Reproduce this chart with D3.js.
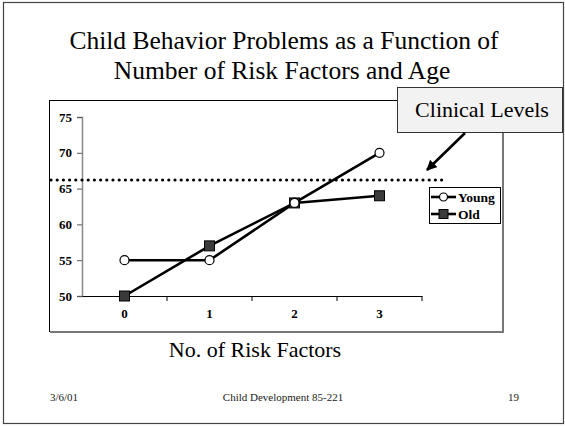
<!DOCTYPE html>
<html><head><meta charset="utf-8">
<script src="https://cdn.jsdelivr.net/npm/d3@7"></script>
<style>
body{margin:0;background:#fff}svg{display:block}
svg text{font-family:"Liberation Serif","Times New Roman",Times,"DejaVu Serif",serif !important;}
</style>
</head><body>
<script>
const categories = ["0","1","2","3"];
const young = [55, 55, 63, 70];
const old = [50, 57, 63, 64];
const yTicks = [50, 55, 60, 65, 70, 75];
const clinicalLevel = 66.2;
const seriesNames = ["Young", "Old"];

const W = 565, H = 426;
const svg = d3.select("body").append("svg").attr("width", W).attr("height", H);

// slide border
svg.append("rect").attr("x", 3.5).attr("y", 2.5).attr("width", 560).attr("height", 421)
  .attr("fill", "#fff").attr("stroke", "#444").attr("stroke-width", 1.2);

// title
const title = svg.append("text").attr("text-anchor", "middle")
  .attr("font-size", 25.5).attr("fill", "#000");
title.append("tspan").attr("x", 284).attr("y", 49).text("Child Behavior Problems as a Function of");
title.append("tspan").attr("x", 282).attr("y", 79).text("Number of Risk Factors and Age");

// chart frame
svg.append("rect").attr("x", 49.5).attr("y", 100.5).attr("width", 453).attr("height", 231)
  .attr("fill", "#fff").attr("stroke", "#000").attr("stroke-width", 1);
svg.append("path").attr("d", "M503,101 V332 H50").attr("fill", "none")
  .attr("stroke", "#777").attr("stroke-width", 2);

const x = d3.scaleBand().domain(categories).range([82, 422]).padding(0);
const y = d3.scaleLinear().domain([50, 75]).range([296, 117]);

// y axis
const yAxis = svg.append("g").attr("transform", "translate(82,0)")
  .call(d3.axisLeft(y).tickValues(yTicks).tickSize(5).tickPadding(5));
yAxis.select(".domain").attr("stroke", "#888").attr("stroke-width", 1.5);
yAxis.selectAll(".tick line").attr("stroke", "#555");
yAxis.selectAll("text").attr("font-size", 13)
  .attr("font-weight", "bold").attr("fill", "#000");

// x axis
const xAxis = svg.append("g").attr("transform", "translate(0,296)")
  .call(d3.axisBottom(x).tickSize(0).tickPadding(13));
xAxis.select(".domain").attr("stroke", "#000").attr("stroke-width", 1.2);
xAxis.selectAll("text").attr("font-size", 13)
  .attr("font-weight", "bold").attr("fill", "#000");
const bounds = categories.slice(1).map(c => x(c)).concat([x.range()[1]]);
svg.append("g").selectAll("line").data(bounds).join("line")
  .attr("x1", d => d).attr("x2", d => d).attr("y1", 296).attr("y2", 301)
  .attr("stroke", "#000").attr("stroke-width", 1);

// clinical dotted line
svg.append("line").attr("x1", 51).attr("x2", 444)
  .attr("y1", y(clinicalLevel)).attr("y2", y(clinicalLevel))
  .attr("stroke", "#000").attr("stroke-width", 3.2)
  .attr("stroke-linecap", "round").attr("stroke-dasharray", "0 6.2");

const cx = c => x(c) + x.bandwidth() / 2;
const line = d3.line().x((d, i) => cx(categories[i])).y(d => y(d));

svg.append("path").datum(young).attr("d", line).attr("fill", "none")
  .attr("stroke", "#000").attr("stroke-width", 2.6);
svg.append("path").datum(old).attr("d", line).attr("fill", "none")
  .attr("stroke", "#000").attr("stroke-width", 2.6);

svg.append("g").selectAll("rect").data(old).join("rect")
  .attr("x", (d, i) => cx(categories[i]) - 5).attr("y", d => y(d) - 5)
  .attr("width", 10).attr("height", 10)
  .attr("fill", "#3a3a3a").attr("stroke", "#000").attr("stroke-width", 1);
svg.append("g").selectAll("circle").data(young).join("circle")
  .attr("cx", (d, i) => cx(categories[i])).attr("cy", d => y(d)).attr("r", 4.5)
  .attr("fill", "#fff").attr("stroke", "#000").attr("stroke-width", 1.2);

// legend
const lg = svg.append("g");
lg.append("rect").attr("x", 429.5).attr("y", 187.5).attr("width", 71).attr("height", 36)
  .attr("fill", "#fff").attr("stroke", "#000").attr("stroke-width", 1);
seriesNames.forEach((name, i) => {
  const ly = 197 + i * 17;
  lg.append("line").attr("x1", 431).attr("x2", 456).attr("y1", ly).attr("y2", ly)
    .attr("stroke", "#000").attr("stroke-width", 2.6);
  if (i === 0) {
    lg.append("circle").attr("cx", 443.5).attr("cy", ly).attr("r", 4)
      .attr("fill", "#fff").attr("stroke", "#000").attr("stroke-width", 1.2);
  } else {
    lg.append("rect").attr("x", 439).attr("y", ly - 4.5).attr("width", 9).attr("height", 9)
      .attr("fill", "#3a3a3a").attr("stroke", "#000").attr("stroke-width", 1);
  }
  lg.append("text").attr("x", 458).attr("y", ly + 4.5)
    .attr("font-size", 13.5).attr("font-weight", "bold").attr("fill", "#000").text(name);
});

// x axis title
svg.append("text").attr("x", 255).attr("y", 357).attr("text-anchor", "middle")
  .attr("font-size", 22).attr("fill", "#000").text("No. of Risk Factors");

// Clinical Levels callout
svg.append("rect").attr("x", 397.5).attr("y", 87.5).attr("width", 165).attr("height", 45)
  .attr("fill", "#f2f2f2").attr("stroke", "#333").attr("stroke-width", 1);
svg.append("text").attr("x", 482).attr("y", 117).attr("text-anchor", "middle")
  .attr("font-size", 22).attr("fill", "#000").text("Clinical Levels");

// arrow
const defs = svg.append("defs");
defs.append("marker").attr("id", "ah").attr("viewBox", "0 0 10 10").attr("refX", 9).attr("refY", 5)
  .attr("markerWidth", 4).attr("markerHeight", 4).attr("orient", "auto")
  .attr("markerUnits", "strokeWidth")
  .append("path").attr("d", "M0,0 L10,5 L0,10 Z").attr("fill", "#000");
svg.append("line").attr("x1", 465).attr("y1", 133).attr("x2", 427).attr("y2", 170)
  .attr("stroke", "#000").attr("stroke-width", 2.6).attr("marker-end", "url(#ah)");

// footer
const foot = [["3/6/01", 50, "start"], ["Child Development 85-221", 283, "middle"], ["19", 508, "start"]];
svg.append("g").selectAll("text").data(foot).join("text")
  .attr("x", d => d[1]).attr("y", 401).attr("text-anchor", d => d[2])
  .attr("font-size", 11).attr("fill", "#222").text(d => d[0]);
</script>
</body></html>
